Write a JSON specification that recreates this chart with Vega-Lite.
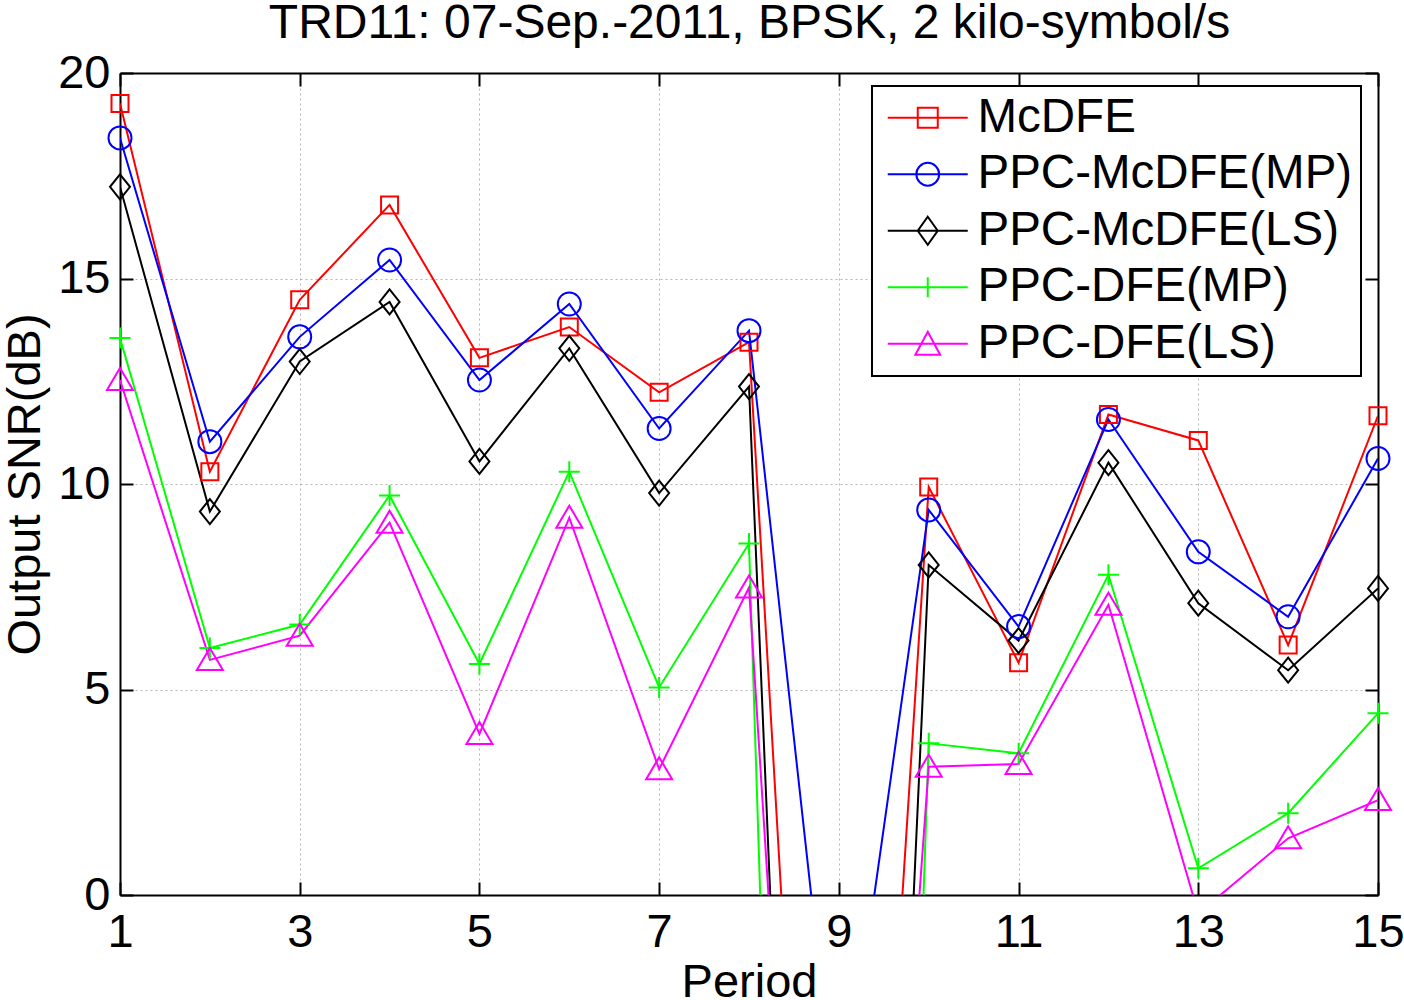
{
  "$schema": "https://vega.github.io/schema/vega-lite/v6.json",
  "width": 1258,
  "height": 822,
  "autosize": {"type": "none"},
  "padding": {"left": 120, "top": 73, "right": 26, "bottom": 105},
  "background": "white",
  "config": {
    "view": {"stroke": null},
    "font": "Liberation Sans",
    "axis": {
      "labelFont": "Liberation Sans",
      "titleFont": "Liberation Sans",
      "labelFontSize": 47,
      "titleFontSize": 47,
      "titleFontWeight": "normal",
      "labelColor": "black",
      "titleColor": "black",
      "domainColor": "black",
      "domainWidth": 2,
      "tickColor": "black",
      "tickWidth": 2,
      "tickSize": -13,
      "labelFlush": false,
      "labelOverlap": false,
      "gridColor": "#b4b4b4",
      "gridDash": [2, 3],
      "gridWidth": 1
    }
  },
  "data": {
    "values": [
      {"period": 1, "series": "McDFE", "snr": 19.26},
      {"period": 2, "series": "McDFE", "snr": 10.3},
      {"period": 3, "series": "McDFE", "snr": 14.48},
      {"period": 4, "series": "McDFE", "snr": 16.79},
      {"period": 5, "series": "McDFE", "snr": 13.07},
      {"period": 6, "series": "McDFE", "snr": 13.82},
      {"period": 7, "series": "McDFE", "snr": 12.23},
      {"period": 8, "series": "McDFE", "snr": 13.45},
      {"period": 9, "series": "McDFE", "snr": -24},
      {"period": 10, "series": "McDFE", "snr": 9.93},
      {"period": 11, "series": "McDFE", "snr": 5.65},
      {"period": 12, "series": "McDFE", "snr": 11.69},
      {"period": 13, "series": "McDFE", "snr": 11.06},
      {"period": 14, "series": "McDFE", "snr": 6.08},
      {"period": 15, "series": "McDFE", "snr": 11.66},
      {"period": 1, "series": "PPC-McDFE(MP)", "snr": 18.42},
      {"period": 2, "series": "PPC-McDFE(MP)", "snr": 11.03},
      {"period": 3, "series": "PPC-McDFE(MP)", "snr": 13.58},
      {"period": 4, "series": "PPC-McDFE(MP)", "snr": 15.45},
      {"period": 5, "series": "PPC-McDFE(MP)", "snr": 12.53},
      {"period": 6, "series": "PPC-McDFE(MP)", "snr": 14.38},
      {"period": 7, "series": "PPC-McDFE(MP)", "snr": 11.35},
      {"period": 8, "series": "PPC-McDFE(MP)", "snr": 13.73},
      {"period": 9, "series": "PPC-McDFE(MP)", "snr": -6.1},
      {"period": 10, "series": "PPC-McDFE(MP)", "snr": 9.37},
      {"period": 11, "series": "PPC-McDFE(MP)", "snr": 6.53},
      {"period": 12, "series": "PPC-McDFE(MP)", "snr": 11.57},
      {"period": 13, "series": "PPC-McDFE(MP)", "snr": 8.35},
      {"period": 14, "series": "PPC-McDFE(MP)", "snr": 6.77},
      {"period": 15, "series": "PPC-McDFE(MP)", "snr": 10.62},
      {"period": 1, "series": "PPC-McDFE(LS)", "snr": 17.23},
      {"period": 2, "series": "PPC-McDFE(LS)", "snr": 9.33},
      {"period": 3, "series": "PPC-McDFE(LS)", "snr": 12.98},
      {"period": 4, "series": "PPC-McDFE(LS)", "snr": 14.43},
      {"period": 5, "series": "PPC-McDFE(LS)", "snr": 10.55},
      {"period": 6, "series": "PPC-McDFE(LS)", "snr": 13.3},
      {"period": 7, "series": "PPC-McDFE(LS)", "snr": 9.78},
      {"period": 8, "series": "PPC-McDFE(LS)", "snr": 12.37},
      {"period": 9, "series": "PPC-McDFE(LS)", "snr": -40},
      {"period": 10, "series": "PPC-McDFE(LS)", "snr": 8.03},
      {"period": 11, "series": "PPC-McDFE(LS)", "snr": 6.19},
      {"period": 12, "series": "PPC-McDFE(LS)", "snr": 10.52},
      {"period": 13, "series": "PPC-McDFE(LS)", "snr": 7.1},
      {"period": 14, "series": "PPC-McDFE(LS)", "snr": 5.47},
      {"period": 15, "series": "PPC-McDFE(LS)", "snr": 7.46},
      {"period": 1, "series": "PPC-DFE(MP)", "snr": 13.55},
      {"period": 2, "series": "PPC-DFE(MP)", "snr": 6.01},
      {"period": 3, "series": "PPC-DFE(MP)", "snr": 6.58},
      {"period": 4, "series": "PPC-DFE(MP)", "snr": 9.72},
      {"period": 5, "series": "PPC-DFE(MP)", "snr": 5.62},
      {"period": 6, "series": "PPC-DFE(MP)", "snr": 10.3},
      {"period": 7, "series": "PPC-DFE(MP)", "snr": 5.05},
      {"period": 8, "series": "PPC-DFE(MP)", "snr": 8.55},
      {"period": 9, "series": "PPC-DFE(MP)", "snr": -60},
      {"period": 10, "series": "PPC-DFE(MP)", "snr": 3.69},
      {"period": 11, "series": "PPC-DFE(MP)", "snr": 3.45},
      {"period": 12, "series": "PPC-DFE(MP)", "snr": 7.79},
      {"period": 13, "series": "PPC-DFE(MP)", "snr": 0.65},
      {"period": 14, "series": "PPC-DFE(MP)", "snr": 1.99},
      {"period": 15, "series": "PPC-DFE(MP)", "snr": 4.42},
      {"period": 1, "series": "PPC-DFE(LS)", "snr": 12.53},
      {"period": 2, "series": "PPC-DFE(LS)", "snr": 5.72},
      {"period": 3, "series": "PPC-DFE(LS)", "snr": 6.31},
      {"period": 4, "series": "PPC-DFE(LS)", "snr": 9.06},
      {"period": 5, "series": "PPC-DFE(LS)", "snr": 3.92},
      {"period": 6, "series": "PPC-DFE(LS)", "snr": 9.18},
      {"period": 7, "series": "PPC-DFE(LS)", "snr": 3.06},
      {"period": 8, "series": "PPC-DFE(LS)", "snr": 7.48},
      {"period": 9, "series": "PPC-DFE(LS)", "snr": -27},
      {"period": 10, "series": "PPC-DFE(LS)", "snr": 3.12},
      {"period": 11, "series": "PPC-DFE(LS)", "snr": 3.19},
      {"period": 12, "series": "PPC-DFE(LS)", "snr": 7.06},
      {"period": 13, "series": "PPC-DFE(LS)", "snr": -0.45},
      {"period": 14, "series": "PPC-DFE(LS)", "snr": 1.38},
      {"period": 15, "series": "PPC-DFE(LS)", "snr": 2.31}
    ]
  },
  "layer": [
    {
      "mark": {"type": "line", "strokeWidth": 2, "clip": true},
      "encoding": {
        "x": {
          "field": "period", "type": "quantitative",
          "scale": {"domain": [1, 15], "nice": false, "zero": false},
          "axis": {
            "values": [1, 3, 5, 7, 9, 11, 13, 15],
            "title": "Period",
            "grid": true,
            "labelPadding": 27,
            "titleBaseline": "alphabetic",
            "titleY": 101
          }
        },
        "y": {
          "field": "snr", "type": "quantitative",
          "scale": {"domain": [0, 20], "nice": false, "zero": false},
          "axis": {
            "values": [0, 5, 10, 15, 20],
            "title": "Output SNR(dB)",
            "grid": true,
            "labelPadding": 23,
            "titleBaseline": "alphabetic",
            "titleAlign": "center",
            "titleAngle": -90,
            "titleX": -81,
            "titleY": 411
          }
        },
        "color": {
          "field": "series", "type": "nominal",
          "scale": {
            "domain": ["McDFE", "PPC-McDFE(MP)", "PPC-McDFE(LS)", "PPC-DFE(MP)", "PPC-DFE(LS)"],
            "range": ["#ff0000", "#0000ff", "#000000", "#00ff00", "#ff00ff"]
          },
          "legend": {
            "title": null,
            "orient": "none",
            "legendX": 752,
            "legendY": 13,
            "padding": 8,
            "strokeColor": "black",
            "fillColor": "white",
            "symbolSize": 1600,
            "symbolStrokeWidth": 2,
            "symbolFillColor": "transparent",
            "symbolOffset": 24,
            "labelOffset": 26,
            "labelFontSize": 47.5,
            "labelFont": "Liberation Sans",
            "labelColor": "black",
            "labelLimit": 0,
            "rowPadding": 7.5,
            "encode": {
              "symbols": {
                "update": {
                  "shape": [
                    {"test": "datum.value === 'McDFE'", "value": "M-2,0H2M-0.5,-0.5H0.5V0.5H-0.5Z"},
                    {"test": "datum.value === 'PPC-McDFE(MP)'", "value": "M-2,0H2M0.57,0A0.57,0.57,0,1,1,-0.57,0A0.57,0.57,0,1,1,0.57,0Z"},
                    {"test": "datum.value === 'PPC-McDFE(LS)'", "value": "M-2,0H2M0,-0.7L0.5,0L0,0.7L-0.5,0Z"},
                    {"test": "datum.value === 'PPC-DFE(MP)'", "value": "M-2,0H2M0,-0.5V0.5"},
                    {"value": "M-2,0H2M0,-0.6L0.62,0.55L-0.62,0.55Z"}
                  ],
                  "fill": {"value": "transparent"},
                  "strokeWidth": {"value": 2},
                  "opacity": {"value": 1}
                }
              },
              "legend": {
                "update": {"strokeWidth": {"value": 2}}
              }
            }
          }
        }
      }
    },
    {
      "transform": [{"filter": "datum.series === 'McDFE' && datum.snr >= 0"}],
      "mark": {"type": "point", "shape": "M-0.85,-0.85H0.85V0.85H-0.85Z", "filled": false, "size": 400, "strokeWidth": 2, "color": "#ff0000", "opacity": 1},
      "encoding": {
        "x": {"field": "period", "type": "quantitative", "axis": null},
        "y": {"field": "snr", "type": "quantitative", "axis": null}
      }
    },
    {
      "transform": [{"filter": "datum.series === 'PPC-McDFE(MP)' && datum.snr >= 0"}],
      "mark": {"type": "point", "shape": "M1.15,0A1.15,1.15,0,1,1,-1.15,0A1.15,1.15,0,1,1,1.15,0Z", "filled": false, "size": 400, "strokeWidth": 2, "color": "#0000ff", "opacity": 1},
      "encoding": {
        "x": {"field": "period", "type": "quantitative", "axis": null},
        "y": {"field": "snr", "type": "quantitative", "axis": null}
      }
    },
    {
      "transform": [{"filter": "datum.series === 'PPC-McDFE(LS)' && datum.snr >= 0"}],
      "mark": {"type": "point", "shape": "M0,-1.25L1,0L0,1.25L-1,0Z", "filled": false, "size": 400, "strokeWidth": 2, "color": "#000000", "opacity": 1},
      "encoding": {
        "x": {"field": "period", "type": "quantitative", "axis": null},
        "y": {"field": "snr", "type": "quantitative", "axis": null}
      }
    },
    {
      "transform": [{"filter": "datum.series === 'PPC-DFE(MP)' && datum.snr >= 0"}],
      "mark": {"type": "point", "shape": "M-1.05,0H1.05M0,-1.05V1.05", "filled": false, "size": 400, "strokeWidth": 2, "color": "#00ff00", "opacity": 1},
      "encoding": {
        "x": {"field": "period", "type": "quantitative", "axis": null},
        "y": {"field": "snr", "type": "quantitative", "axis": null}
      }
    },
    {
      "transform": [{"filter": "datum.series === 'PPC-DFE(LS)' && datum.snr >= 0"}],
      "mark": {"type": "point", "shape": "M0,-1.2L1.3,1L-1.3,1Z", "filled": false, "size": 400, "strokeWidth": 2, "color": "#ff00ff", "opacity": 1},
      "encoding": {
        "x": {"field": "period", "type": "quantitative", "axis": null},
        "y": {"field": "snr", "type": "quantitative", "axis": null}
      }
    },
    {
      "mark": {"type": "point", "opacity": 0, "clip": true},
      "encoding": {
        "x": {
          "field": "period", "type": "quantitative",
          "axis": {
            "orient": "top",
            "values": [1, 3, 5, 7, 9, 11, 13, 15],
            "labels": false,
            "grid": false,
            "title": "TRD11: 07-Sep.-2011, BPSK, 2 kilo-symbol/s",
            "titleFontSize": 48,
            "titleBaseline": "alphabetic",
            "titleAlign": "center",
            "titleAngle": 0,
            "titleX": 629,
            "titleY": -36
          }
        },
        "y": {
          "field": "snr", "type": "quantitative",
          "axis": {"orient": "right", "values": [0, 5, 10, 15, 20], "labels": false, "title": null, "grid": false}
        }
      }
    }
  ],
  "resolve": {"axis": {"x": "independent", "y": "independent"}}
}
